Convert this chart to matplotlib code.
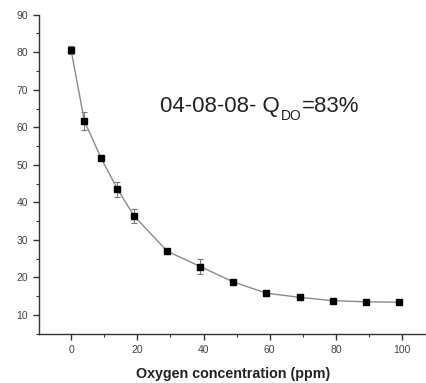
import numpy as np
import matplotlib.pyplot as plt
from matplotlib.ticker import MultipleLocator

plt.rcParams['font.family'] = ['Liberation Sans', 'DejaVu Sans']

# oxygen concentration (ppm) and measured response
oxygen = [0, 4, 9, 14, 19, 29, 39, 49, 59, 69, 79, 89, 99]
response = [80.6, 61.7, 51.9, 43.5, 36.4, 27.0, 22.9, 18.8, 15.8, 14.7, 13.8, 13.5, 13.4]
errors = [1.0, 2.5, 0.5, 2.0, 1.8, 0.7, 2.0, 0.5, 0.7, 0.4, 0.4, 0.4, 0.4]

fig = plt.figure(figsize=(4.27, 3.83), dpi=100)
ax = fig.add_axes([0.0913, 0.1287, 0.9087, 0.8329])

ax.errorbar(oxygen, response, yerr=errors, color='#8a8a8a', lw=1.0,
            ecolor='#777777', elinewidth=0.8, capsize=2.5, capthick=0.8,
            marker='s', ms=5, mfc='black', mec='black', zorder=3)

# label with a lowered subscript, built from three pieces
t1 = ax.text(27, 64.1, '04-08-08- Q', fontsize=16, color='#222222',
             va='baseline', ha='left')
t2 = ax.annotate('DO', xy=(1, 0), xycoords=t1, xytext=(0.3, -4.7),
                 textcoords='offset points', fontsize=10, color='#222222',
                 va='bottom', ha='left')
t3 = ax.annotate('=83%', xy=(1, 0), xycoords=(t2, t1), xytext=(0.3, 0),
                 textcoords='offset points', fontsize=16, color='#222222',
                 va='bottom', ha='left')

ax.set_xlim(-9.7, 107.5)
ax.set_ylim(5, 90)
ax.set_xticks([0, 20, 40, 60, 80, 100])
ax.set_yticks([10, 20, 30, 40, 50, 60, 70, 80, 90])
ax.xaxis.set_minor_locator(MultipleLocator(10))
ax.yaxis.set_minor_locator(MultipleLocator(5))

for s in ['top', 'right']:
    ax.spines[s].set_visible(False)
for s in ['left', 'bottom']:
    ax.spines[s].set_color('#333333')
    ax.spines[s].set_linewidth(1.0)

ax.tick_params(which='major', direction='out', length=4, width=1.0,
               color='#333333', labelsize=7.5, labelcolor='#444444', pad=4)
ax.tick_params(which='minor', direction='out', length=2.5, width=0.8,
               color='#333333')

ax.set_xlabel('Oxygen concentration (ppm)', fontsize=10.3, fontweight='bold',
              color='#222222', labelpad=9)

fig.savefig('out.png', dpi=100)
